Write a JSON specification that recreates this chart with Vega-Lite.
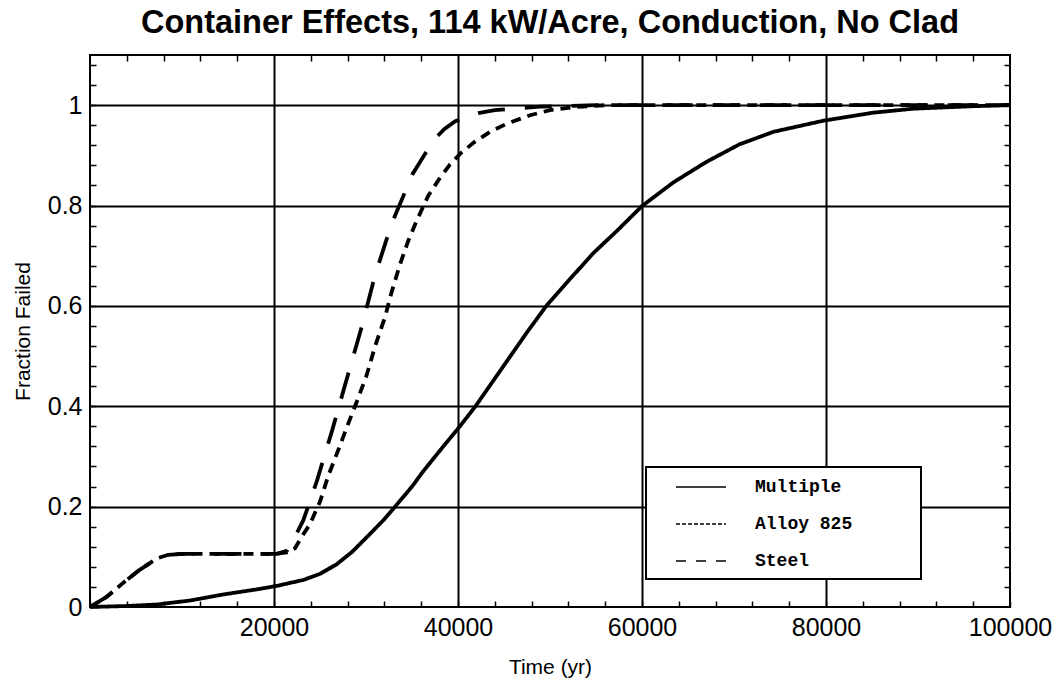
{
  "$schema": "https://vega.github.io/schema/vega-lite/v6.json",
  "width": 920,
  "height": 552,
  "autosize": {"type": "none"},
  "padding": {"left": 90, "top": 55, "right": 50, "bottom": 89},
  "background": "white",
  "title": {"text": "Container Effects, 114 kW/Acre, Conduction, No Clad", "font": "Liberation Sans", "fontSize": 32.5, "fontWeight": "bold", "color": "black", "anchor": "middle", "offset": 14},
  "config": {
    "view": {"stroke": "black", "strokeWidth": 2},
    "axis": {"domain": false, "labelFont": "Liberation Sans", "labelFontSize": 25, "labelColor": "black", "titleFont": "Liberation Sans", "titleFontSize": 21, "titleFontWeight": "normal", "titleColor": "black", "tickColor": "black", "tickWidth": 1.5, "gridColor": "black", "gridWidth": 2, "labelOverlap": false, "labelFlush": false}
  },
  "data": {"values": [
    {"s": "Multiple", "t": 0, "f": 0},
    {"s": "Multiple", "t": 4000, "f": 0.002},
    {"s": "Multiple", "t": 7300, "f": 0.005},
    {"s": "Multiple", "t": 10900, "f": 0.013},
    {"s": "Multiple", "t": 14500, "f": 0.025},
    {"s": "Multiple", "t": 18100, "f": 0.035},
    {"s": "Multiple", "t": 20300, "f": 0.042},
    {"s": "Multiple", "t": 23200, "f": 0.054},
    {"s": "Multiple", "t": 25000, "f": 0.066},
    {"s": "Multiple", "t": 26800, "f": 0.085},
    {"s": "Multiple", "t": 28500, "f": 0.11},
    {"s": "Multiple", "t": 30400, "f": 0.145},
    {"s": "Multiple", "t": 32000, "f": 0.175},
    {"s": "Multiple", "t": 33300, "f": 0.203},
    {"s": "Multiple", "t": 35000, "f": 0.24},
    {"s": "Multiple", "t": 36200, "f": 0.27},
    {"s": "Multiple", "t": 38400, "f": 0.32},
    {"s": "Multiple", "t": 40200, "f": 0.36},
    {"s": "Multiple", "t": 41900, "f": 0.4},
    {"s": "Multiple", "t": 43800, "f": 0.45},
    {"s": "Multiple", "t": 45700, "f": 0.5},
    {"s": "Multiple", "t": 47600, "f": 0.55},
    {"s": "Multiple", "t": 49600, "f": 0.6},
    {"s": "Multiple", "t": 52000, "f": 0.65},
    {"s": "Multiple", "t": 54700, "f": 0.705},
    {"s": "Multiple", "t": 57300, "f": 0.75},
    {"s": "Multiple", "t": 60000, "f": 0.799},
    {"s": "Multiple", "t": 63400, "f": 0.846},
    {"s": "Multiple", "t": 67000, "f": 0.887},
    {"s": "Multiple", "t": 70600, "f": 0.922},
    {"s": "Multiple", "t": 74300, "f": 0.947},
    {"s": "Multiple", "t": 79700, "f": 0.969},
    {"s": "Multiple", "t": 85100, "f": 0.985},
    {"s": "Multiple", "t": 89500, "f": 0.993},
    {"s": "Multiple", "t": 96000, "f": 0.998},
    {"s": "Multiple", "t": 100000, "f": 1.0},
    {"s": "Alloy 825", "t": 0, "f": 0},
    {"s": "Alloy 825", "t": 1800, "f": 0.02},
    {"s": "Alloy 825", "t": 3600, "f": 0.048},
    {"s": "Alloy 825", "t": 5400, "f": 0.074},
    {"s": "Alloy 825", "t": 7300, "f": 0.097},
    {"s": "Alloy 825", "t": 8500, "f": 0.104},
    {"s": "Alloy 825", "t": 10000, "f": 0.106},
    {"s": "Alloy 825", "t": 15000, "f": 0.106},
    {"s": "Alloy 825", "t": 20300, "f": 0.106},
    {"s": "Alloy 825", "t": 21400, "f": 0.109},
    {"s": "Alloy 825", "t": 22280, "f": 0.117},
    {"s": "Alloy 825", "t": 23190, "f": 0.145},
    {"s": "Alloy 825", "t": 23910, "f": 0.165},
    {"s": "Alloy 825", "t": 25000, "f": 0.21},
    {"s": "Alloy 825", "t": 25910, "f": 0.262},
    {"s": "Alloy 825", "t": 26990, "f": 0.313},
    {"s": "Alloy 825", "t": 28080, "f": 0.366},
    {"s": "Alloy 825", "t": 29060, "f": 0.412},
    {"s": "Alloy 825", "t": 30070, "f": 0.462},
    {"s": "Alloy 825", "t": 30980, "f": 0.519},
    {"s": "Alloy 825", "t": 32070, "f": 0.578},
    {"s": "Alloy 825", "t": 32790, "f": 0.628},
    {"s": "Alloy 825", "t": 33700, "f": 0.683},
    {"s": "Alloy 825", "t": 34600, "f": 0.73},
    {"s": "Alloy 825", "t": 35510, "f": 0.77},
    {"s": "Alloy 825", "t": 36780, "f": 0.82},
    {"s": "Alloy 825", "t": 38040, "f": 0.855},
    {"s": "Alloy 825", "t": 39130, "f": 0.882},
    {"s": "Alloy 825", "t": 40220, "f": 0.903},
    {"s": "Alloy 825", "t": 41670, "f": 0.925},
    {"s": "Alloy 825", "t": 43480, "f": 0.947},
    {"s": "Alloy 825", "t": 45290, "f": 0.963},
    {"s": "Alloy 825", "t": 47830, "f": 0.98},
    {"s": "Alloy 825", "t": 50000, "f": 0.99},
    {"s": "Alloy 825", "t": 52500, "f": 0.996},
    {"s": "Alloy 825", "t": 56000, "f": 1.0},
    {"s": "Alloy 825", "t": 100000, "f": 1.0},
    {"s": "Steel", "t": 0, "f": 0},
    {"s": "Steel", "t": 1800, "f": 0.02},
    {"s": "Steel", "t": 3600, "f": 0.048},
    {"s": "Steel", "t": 5400, "f": 0.074},
    {"s": "Steel", "t": 7300, "f": 0.097},
    {"s": "Steel", "t": 8500, "f": 0.104},
    {"s": "Steel", "t": 10000, "f": 0.106},
    {"s": "Steel", "t": 15000, "f": 0.106},
    {"s": "Steel", "t": 20300, "f": 0.106},
    {"s": "Steel", "t": 21400, "f": 0.112},
    {"s": "Steel", "t": 21920, "f": 0.127},
    {"s": "Steel", "t": 23190, "f": 0.173},
    {"s": "Steel", "t": 24640, "f": 0.25},
    {"s": "Steel", "t": 26340, "f": 0.353},
    {"s": "Steel", "t": 27900, "f": 0.454},
    {"s": "Steel", "t": 29530, "f": 0.558},
    {"s": "Steel", "t": 30980, "f": 0.661},
    {"s": "Steel", "t": 32790, "f": 0.764},
    {"s": "Steel", "t": 35070, "f": 0.863},
    {"s": "Steel", "t": 37320, "f": 0.93},
    {"s": "Steel", "t": 38500, "f": 0.952},
    {"s": "Steel", "t": 39700, "f": 0.968},
    {"s": "Steel", "t": 42200, "f": 0.984},
    {"s": "Steel", "t": 44000, "f": 0.99},
    {"s": "Steel", "t": 48900, "f": 0.997},
    {"s": "Steel", "t": 55000, "f": 1.0},
    {"s": "Steel", "t": 100000, "f": 1.0}
  ]},
  "layer": [
    {
      "mark": {"type": "line", "strokeWidth": 3.8, "color": "black", "strokeCap": "butt"},
      "encoding": {
        "x": {"field": "t", "type": "quantitative", "scale": {"domain": [0, 100000], "nice": false},
          "axis": {"orient": "bottom", "title": "Time (yr)", "titlePadding": 16, "format": "d",
            "values": [0,4000,8000,12000,16000,20000,24000,28000,32000,36000,40000,44000,48000,52000,56000,60000,64000,68000,72000,76000,80000,84000,88000,92000,96000,100000],
            "labelExpr": "datum.value > 0 && datum.value % 20000 === 0 ? datum.label : ''",
            "grid": true,
            "gridOpacity": {"condition": {"test": "datum.value > 0 && datum.value < 100000 && datum.value % 20000 === 0", "value": 1}, "value": 0},
            "tickSize": -6, "labelPadding": 14}},
        "y": {"field": "f", "type": "quantitative", "scale": {"domain": [0, 1.1], "nice": false},
          "axis": {"orient": "left", "title": "Fraction Failed", "titlePadding": 14, "format": ".1~f",
            "values": [0,0.04,0.08,0.12,0.16,0.2,0.24,0.28,0.32,0.36,0.4,0.44,0.48,0.52,0.56,0.6,0.64,0.68,0.72,0.76,0.8,0.84,0.88,0.92,0.96,1,1.04,1.08],
            "labelExpr": "abs(datum.value * 5 - round(datum.value * 5)) < 0.000001 ? datum.label : ''",
            "grid": true,
            "gridOpacity": {"condition": {"test": "datum.value > 0.01 && abs(datum.value * 5 - round(datum.value * 5)) < 0.000001", "value": 1}, "value": 0},
            "tickSize": -6, "labelPadding": 14}},
        "strokeDash": {"field": "s", "type": "nominal",
          "scale": {"domain": ["Multiple", "Alloy 825", "Steel"], "range": [[1, 0], [10, 7], [27, 20]]},
          "legend": null}
      }
    },
    {
      "transform": [{"filter": "datum.t === 0"}],
      "mark": {"type": "line", "strokeWidth": 1.6, "color": "black", "strokeCap": "butt"},
      "encoding": {
        "x": {"field": "t", "type": "quantitative", "axis": null},
        "y": {"field": "f", "type": "quantitative", "axis": null},
        "strokeDash": {"field": "s", "type": "nominal",
          "scale": {"domain": ["Multiple", "Alloy 825", "Steel"], "range": [[1, 0], [4, 2], [10, 10]]},
          "legend": {"orient": "none", "legendX": 556, "legendY": 412,
            "title": "\u00a0", "titleOrient": "right", "titlePadding": 60, "titleFontSize": 18,
            "strokeColor": "black", "fillColor": "white",
            "padding": 9, "rowPadding": 17,
            "symbolType": "M-2.5,0H2.5", "symbolSize": 400, "symbolStrokeWidth": 1.6, "symbolStrokeColor": "black",
            "symbolOffset": 35, "labelOffset": 43,
            "labelFont": "Liberation Mono", "labelFontSize": 18, "labelFontWeight": "bold", "labelColor": "black",
            "encode": {"legend": {"update": {"strokeWidth": {"value": 2}}}}}}
      }
    },
    {
      "mark": {"type": "line", "opacity": 0},
      "encoding": {
        "x": {"field": "t", "type": "quantitative",
          "axis": {"orient": "top", "title": null, "labels": false, "grid": false, "tickSize": -6,
            "values": [4000,8000,12000,16000,24000,28000,32000,36000,44000,48000,52000,56000,64000,68000,72000,76000,84000,88000,92000,96000]}},
        "y": {"field": "f", "type": "quantitative",
          "axis": {"orient": "right", "title": null, "labels": false, "grid": false, "tickSize": -6,
            "values": [0.04,0.08,0.12,0.16,0.24,0.28,0.32,0.36,0.44,0.48,0.52,0.56,0.64,0.68,0.72,0.76,0.84,0.88,0.92,0.96,1.04,1.08]}},
        "detail": {"field": "s", "type": "nominal"}
      }
    }
  ],
  "resolve": {"axis": {"x": "independent", "y": "independent"}, "scale": {"strokeDash": "independent"}}
}
